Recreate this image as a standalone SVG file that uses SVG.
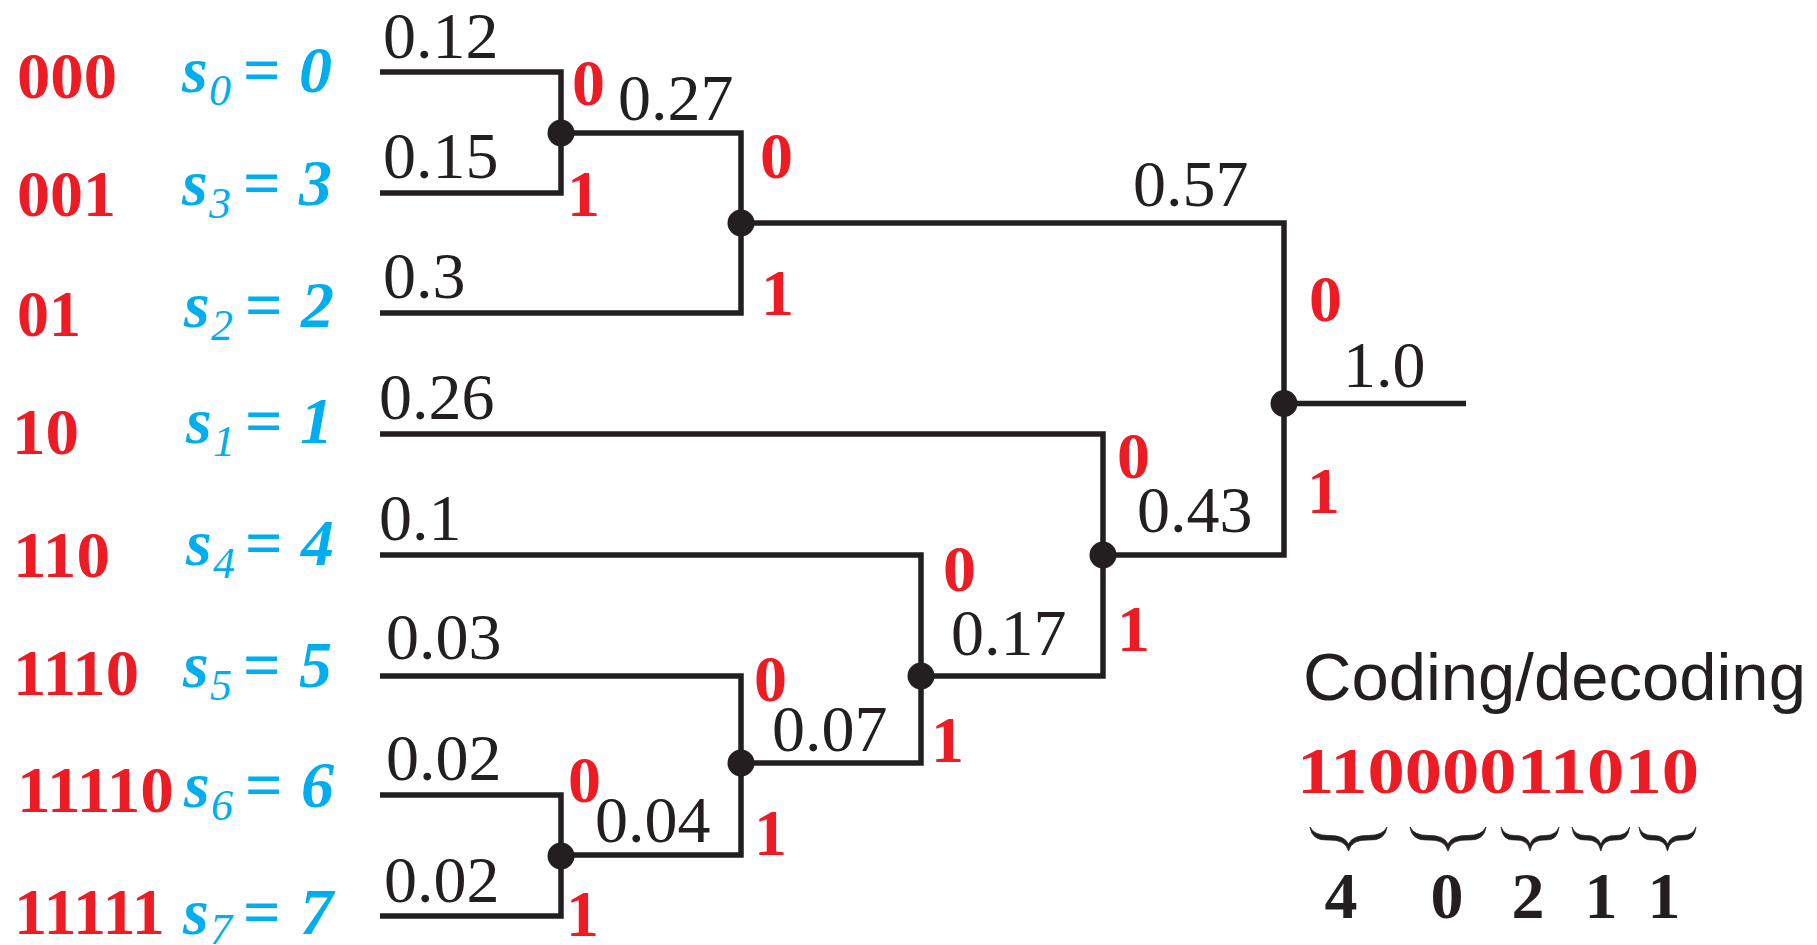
<svg xmlns="http://www.w3.org/2000/svg" width="1817" height="945" viewBox="0 0 1817 945">
<defs>
<style>
.w{fill:none;stroke:#231F20;stroke-width:5.5;stroke-linejoin:miter;stroke-linecap:butt}
.dot{fill:#231F20}
.p{font-family:"Liberation Serif","Times New Roman",serif;font-size:66px;fill:#231F20}
.b{font-family:"Liberation Serif","Times New Roman",serif;font-size:66px;font-weight:bold;fill:#ED1C24}
.s{font-family:"Liberation Serif","Times New Roman",serif;font-size:66px;font-weight:bold;font-style:italic;fill:#00AEEF}
.sub{font-size:44px;font-weight:normal;font-style:italic}
.eq{font-style:normal}
.k{font-family:"Liberation Serif","Times New Roman",serif;font-size:66px;font-weight:bold;fill:#231F20;text-anchor:middle}
.t{font-family:"Liberation Sans",Arial,sans-serif;font-size:67px;fill:#231F20}
.br{fill:#231F20;stroke:#231F20;stroke-width:0.8}
</style>
<path id="brace" d="M0,0 Q2,14 18,13 Q35,12 38,24 Q41,12 58,13 Q74,14 76,0 Q72,8.5 58,8.5 Q42,8 38,17 Q34,8 18,8.5 Q4,8.5 0,0 Z"/>
</defs>
<rect width="1817" height="945" fill="#FFFFFF"/>

<g id="connectors">
<path class="w" d="M380,72 H561 V193 H380"/>
<path class="w" d="M561,133 H741 V313 H380"/>
<path class="w" d="M741,223 H1284 V555 H1103"/>
<path class="w" d="M1284,403.5 H1466"/>
<path class="w" d="M380,434 H1103 V676 H921"/>
<path class="w" d="M380,555 H921 V763 H741"/>
<path class="w" d="M380,676 H741 V855 H561"/>
<path class="w" d="M380,795 H561 V916 H380"/>
</g>

<g id="leaf-s0">
<text class="b" x="17" y="98" textLength="100" lengthAdjust="spacingAndGlyphs">000</text>
<text class="s" y="92"><tspan x="182">s</tspan><tspan class="sub" x="209" y="105">0</tspan><tspan class="eq" x="243" y="92">=</tspan><tspan x="299">0</tspan></text>
<text class="p" x="383" y="58">0.12</text>
</g>
<g id="leaf-s3">
<text class="b" x="17" y="216" textLength="99" lengthAdjust="spacingAndGlyphs">001</text>
<text class="s" y="205"><tspan x="182">s</tspan><tspan class="sub" x="209" y="218">3</tspan><tspan class="eq" x="243" y="205">=</tspan><tspan x="299">3</tspan></text>
<text class="p" x="383" y="178">0.15</text>
</g>
<g id="leaf-s2">
<text class="b" x="17" y="336" textLength="64" lengthAdjust="spacingAndGlyphs">01</text>
<text class="s" y="327"><tspan x="184">s</tspan><tspan class="sub" x="211" y="340">2</tspan><tspan class="eq" x="245" y="327">=</tspan><tspan x="301">2</tspan></text>
<text class="p" x="383" y="298">0.3</text>
</g>
<g id="leaf-s1">
<text class="b" x="12" y="454" textLength="67" lengthAdjust="spacingAndGlyphs">10</text>
<text class="s" y="443"><tspan x="186">s</tspan><tspan class="sub" x="213" y="456">1</tspan><tspan class="eq" x="245" y="443">=</tspan><tspan x="300">1</tspan></text>
<text class="p" x="379" y="419">0.26</text>
</g>
<g id="leaf-s4">
<text class="b" x="13" y="577" textLength="97" lengthAdjust="spacingAndGlyphs">110</text>
<text class="s" y="565"><tspan x="186">s</tspan><tspan class="sub" x="213" y="578">4</tspan><tspan class="eq" x="245" y="565">=</tspan><tspan x="301">4</tspan></text>
<text class="p" x="379" y="540">0.1</text>
</g>
<g id="leaf-s5">
<text class="b" x="13" y="695" textLength="126" lengthAdjust="spacingAndGlyphs">1110</text>
<text class="s" y="687"><tspan x="183">s</tspan><tspan class="sub" x="210" y="700">5</tspan><tspan class="eq" x="243" y="687">=</tspan><tspan x="299">5</tspan></text>
<text class="p" x="386" y="659">0.03</text>
</g>
<g id="leaf-s6">
<text class="b" x="17" y="812" textLength="157" lengthAdjust="spacingAndGlyphs">11110</text>
<text class="s" y="807"><tspan x="184">s</tspan><tspan class="sub" x="211" y="820">6</tspan><tspan class="eq" x="245" y="807">=</tspan><tspan x="301">6</tspan></text>
<text class="p" x="386" y="780">0.02</text>
</g>
<g id="leaf-s7">
<text class="b" x="14" y="934" textLength="151" lengthAdjust="spacingAndGlyphs">11111</text>
<text class="s" y="934"><tspan x="183">s</tspan><tspan class="sub" x="210" y="944">7</tspan><tspan class="eq" x="243" y="934">=</tspan><tspan x="300">7</tspan></text>
<text class="p" x="384" y="902">0.02</text>
</g>

<g id="node-027">
<circle class="dot" cx="561" cy="133" r="13.5"/>
<text class="b" x="572" y="105">0</text>
<text class="b" x="567" y="216">1</text>
<text class="p" x="618" y="120">0.27</text>
</g>
<g id="node-057">
<circle class="dot" cx="741" cy="223" r="13.5"/>
<text class="b" x="760" y="178">0</text>
<text class="b" x="761" y="315">1</text>
<text class="p" x="1133" y="206">0.57</text>
</g>
<g id="node-root">
<circle class="dot" cx="1284" cy="403.5" r="13.5"/>
<text class="b" x="1309" y="321">0</text>
<text class="b" x="1307" y="513">1</text>
<text class="p" x="1343" y="387">1.0</text>
</g>
<g id="node-043">
<circle class="dot" cx="1103" cy="555" r="13.5"/>
<text class="b" x="1117" y="478">0</text>
<text class="b" x="1117" y="651">1</text>
<text class="p" x="1137" y="532">0.43</text>
</g>
<g id="node-017">
<circle class="dot" cx="921" cy="676" r="13.5"/>
<text class="b" x="943" y="591">0</text>
<text class="b" x="931" y="762">1</text>
<text class="p" x="951" y="655">0.17</text>
</g>
<g id="node-007">
<circle class="dot" cx="741" cy="763" r="13.5"/>
<text class="b" x="754" y="701">0</text>
<text class="b" x="754" y="855">1</text>
<text class="p" x="772" y="751">0.07</text>
</g>
<g id="node-004">
<circle class="dot" cx="561" cy="856" r="13.5"/>
<text class="b" x="568" y="802">0</text>
<text class="b" x="566" y="936">1</text>
<text class="p" x="595" y="842">0.04</text>
</g>

<g id="coding">
<text class="t" x="1303" y="700">Coding/decoding</text>
<text class="b" x="1297" y="793" textLength="402" lengthAdjust="spacingAndGlyphs">11000011010</text>
<use href="#brace" class="br" transform="translate(1310,827) scale(1.013,1)"/>
<use href="#brace" class="br" transform="translate(1410,827) scale(1.0,1)"/>
<use href="#brace" class="br" transform="translate(1501,827) scale(0.763,1)"/>
<use href="#brace" class="br" transform="translate(1572,827) scale(0.758,1)"/>
<use href="#brace" class="br" transform="translate(1639,827) scale(0.75,1)"/>
<text class="k" x="1341" y="918">4</text>
<text class="k" x="1447" y="918">0</text>
<text class="k" x="1528" y="918">2</text>
<text class="k" x="1601" y="918">1</text>
<text class="k" x="1664" y="918">1</text>
</g>
</svg>
